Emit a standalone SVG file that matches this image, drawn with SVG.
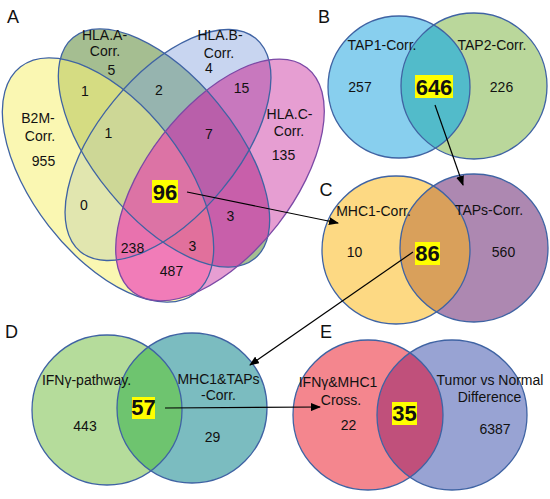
<svg xmlns="http://www.w3.org/2000/svg" xmlns:xlink="http://www.w3.org/1999/xlink" width="550" height="499" viewBox="0 0 550 499">
<style>
text{font-family:"Liberation Sans",Arial,sans-serif;font-size:14px;fill:#111;text-anchor:middle}
.lab{font-size:18px}
.big{font-size:22px;font-weight:bold}
.box{fill:#ffff00}
.ol{fill:none;stroke:#3f63a3;stroke-width:1.3}
.olp{fill:none;stroke:#7b4aa6;stroke-width:1.3}
.cn{fill:none;stroke:#000;stroke-width:1.2}
</style>
<defs>
<marker id="ah" markerUnits="userSpaceOnUse" markerWidth="10" markerHeight="8" refX="9" refY="4" orient="auto">
<path d="M0,0 L10,4 L0,8 z" fill="#000"/>
</marker>
<ellipse id="eY" cx="108" cy="180" rx="143" ry="75" transform="rotate(52.3 108 180)"/>
<ellipse id="eG" cx="164" cy="148" rx="143" ry="70" transform="rotate(50.6 164 148)"/>
<ellipse id="eB" cx="168" cy="145" rx="138" ry="70" transform="rotate(-50.6 168 145)"/>
<ellipse id="eP" cx="220" cy="180" rx="142" ry="73" transform="rotate(-52.3 220 180)"/>
<clipPath id="cY"><use xlink:href="#eY"/></clipPath>
<clipPath id="cG"><use xlink:href="#eG"/></clipPath>
<clipPath id="cBl"><use xlink:href="#eB"/></clipPath>
<clipPath id="cB"><circle cx="399" cy="87" r="71"/></clipPath>
<clipPath id="cC"><circle cx="396" cy="250" r="74"/></clipPath>
<clipPath id="cD"><circle cx="107" cy="410" r="75"/></clipPath>
<clipPath id="cE"><circle cx="368" cy="415" r="75"/></clipPath>
</defs>

<g id="vennA">
<use xlink:href="#eY" fill="#faf7b2"/>
<use xlink:href="#eG" fill="#a5be91"/>
<use xlink:href="#eB" fill="#c8d5f0"/>
<use xlink:href="#eP" fill="#e69ed2"/>
<g clip-path="url(#cY)"><use xlink:href="#eG" fill="#d5dc82"/></g>
<g clip-path="url(#cY)"><use xlink:href="#eB" fill="#e1e6af"/></g>
<g clip-path="url(#cY)"><use xlink:href="#eP" fill="#f17cb8"/></g>
<g clip-path="url(#cG)"><use xlink:href="#eB" fill="#96b4af"/></g>
<g clip-path="url(#cG)"><use xlink:href="#eP" fill="#c85faa"/></g>
<g clip-path="url(#cBl)"><use xlink:href="#eP" fill="#c878be"/></g>
<g clip-path="url(#cY)"><g clip-path="url(#cG)"><use xlink:href="#eB" fill="#cdd796"/></g></g>
<g clip-path="url(#cY)"><g clip-path="url(#cG)"><use xlink:href="#eP" fill="#e1709c"/></g></g>
<g clip-path="url(#cY)"><g clip-path="url(#cBl)"><use xlink:href="#eP" fill="#e872ae"/></g></g>
<g clip-path="url(#cG)"><g clip-path="url(#cBl)"><use xlink:href="#eP" fill="#b95faa"/></g></g>
<g clip-path="url(#cY)"><g clip-path="url(#cG)"><g clip-path="url(#cBl)"><use xlink:href="#eP" fill="#dc73a5"/></g></g></g>
<use xlink:href="#eY" class="ol"/>
<use xlink:href="#eG" class="ol"/>
<use xlink:href="#eB" class="ol"/>
<use xlink:href="#eP" class="olp"/>
<text class="lab" x="13" y="23">A</text>
<text x="104.5" y="40">HLA.A-</text>
<text x="105" y="56">Corr.</text>
<text x="111.5" y="75">5</text>
<text x="220" y="40">HLA.B-</text>
<text x="219" y="58">Corr.</text>
<text x="209" y="73">4</text>
<text x="241.5" y="93">15</text>
<text x="289.5" y="119">HLA.C-</text>
<text x="289" y="136">Corr.</text>
<text x="283.5" y="160">135</text>
<text x="38" y="123">B2M-</text>
<text x="40" y="141">Corr.</text>
<text x="43.5" y="166">955</text>
<text x="85" y="96">1</text>
<text x="159" y="95">2</text>
<text x="108.5" y="138">1</text>
<text x="209" y="139">7</text>
<rect class="box" x="152" y="180" width="26" height="23"/>
<text class="big" x="165" y="199.5">96</text>
<text x="84" y="210">0</text>
<text x="230.5" y="221">3</text>
<text x="132.5" y="253">238</text>
<text x="192.5" y="251">3</text>
<text x="171.5" y="276">487</text>
</g>

<g id="vennB">
<circle cx="399" cy="87" r="71" fill="#88cfee"/>
<circle cx="474" cy="86" r="73" fill="#bad79b"/>
<circle cx="474" cy="86" r="73" fill="#52bbca" clip-path="url(#cB)"/>
<circle cx="399" cy="87" r="71" class="ol"/>
<circle cx="474" cy="86" r="73" class="ol"/>
<text class="lab" x="324" y="23">B</text>
<text x="382" y="50">TAP1-Corr.</text>
<text x="492" y="50">TAP2-Corr.</text>
<text x="360" y="92">257</text>
<text x="501.5" y="92">226</text>
<rect class="box" x="415" y="75" width="38" height="23"/>
<text class="big" x="434" y="94.5">646</text>
</g>

<g id="vennC">
<circle cx="396" cy="250" r="74" fill="#fdd983"/>
<circle cx="474" cy="248" r="74" fill="#ad88b1"/>
<circle cx="474" cy="248" r="74" fill="#d9a05b" clip-path="url(#cC)"/>
<circle cx="396" cy="250" r="74" class="ol"/>
<circle cx="474" cy="248" r="74" class="ol"/>
<text class="lab" x="326" y="196">C</text>
<text x="373.5" y="216">MHC1-Corr.</text>
<text x="489" y="215">TAPs-Corr.</text>
<text x="354.5" y="257">10</text>
<text x="503.5" y="257">560</text>
<rect class="box" x="415" y="242" width="25" height="23"/>
<text class="big" x="427.5" y="261">86</text>
</g>

<g id="vennD">
<circle cx="107" cy="410" r="75" fill="#b5dc9b"/>
<circle cx="192" cy="408" r="75" fill="#7bbcc0"/>
<circle cx="192" cy="408" r="75" fill="#6ec46f" clip-path="url(#cD)"/>
<circle cx="107" cy="410" r="75" class="ol"/>
<circle cx="192" cy="408" r="75" class="ol"/>
<text class="lab" x="11.5" y="338">D</text>
<text x="86.5" y="385">IFNγ-pathway.</text>
<text x="218.5" y="384">MHC1&amp;TAPs</text>
<text x="218.5" y="400">-Corr.</text>
<text x="85" y="431">443</text>
<text x="212.5" y="442">29</text>
<rect class="box" x="132" y="397" width="23" height="22"/>
<text class="big" x="143.5" y="415">57</text>
</g>

<g id="vennE">
<circle cx="368" cy="415" r="75" fill="#f4868e"/>
<circle cx="452" cy="415" r="75" fill="#98a3d3"/>
<circle cx="452" cy="415" r="75" fill="#c0507b" clip-path="url(#cE)"/>
<circle cx="368" cy="415" r="75" class="ol"/>
<circle cx="452" cy="415" r="75" class="ol"/>
<text class="lab" x="326" y="338">E</text>
<text x="338" y="387">IFNγ&amp;MHC1</text>
<text x="341" y="405">Cross.</text>
<text x="348.5" y="430">22</text>
<text x="490" y="385">Tumor vs Normal</text>
<text x="489.5" y="402">Difference</text>
<text x="495" y="434">6387</text>
<rect class="box" x="392" y="402" width="25" height="23"/>
<text class="big" x="404.5" y="421">35</text>
</g>

<g id="connectors">
<line class="cn" x1="187" y1="192" x2="338" y2="223" marker-end="url(#ah)"/>
<line class="cn" x1="435" y1="105" x2="463" y2="185" marker-end="url(#ah)"/>
<line class="cn" x1="413" y1="252" x2="250" y2="365" marker-end="url(#ah)"/>
<line class="cn" x1="165" y1="408" x2="320" y2="407" marker-end="url(#ah)"/>
</g>
</svg>
